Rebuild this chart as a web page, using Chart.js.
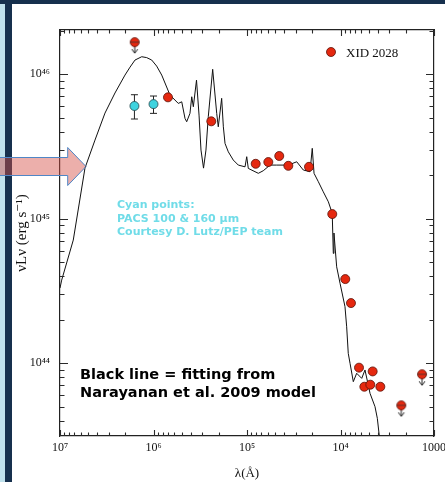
<!DOCTYPE html>
<html>
<head>
<meta charset="utf-8">
<script src="https://cdn.jsdelivr.net/npm/chart.js@4"></script>
<style>
  html, body { margin: 0; padding: 0; background: #16304d; }
  #wrap { position: relative; width: 445px; height: 482px; }
</style>
</head>
<body>
<div id="wrap"><canvas id="chart" width="445" height="482"></canvas></div>
<script>
// values, as log10(lambda / Angstrom) and log10(nuLnu / erg s^-1)
const modelLogLam = [7.000, 6.982, 6.858, 6.733, 6.626, 6.519, 6.412, 6.305, 6.251, 6.198, 6.126, 6.073, 6.019, 5.966, 5.912,
  5.824, 5.735, 5.698, 5.663, 5.645, 5.610, 5.591, 5.574, 5.540, 5.513, 5.492, 5.465, 5.439, 5.414, 5.367, 5.324, 5.307,
  5.271, 5.253, 5.235, 5.200, 5.147, 5.093, 5.021, 5.003, 4.986, 4.879, 4.826, 4.754, 4.682, 4.558, 4.468, 4.398, 4.326,
  4.302, 4.283, 4.237, 4.184, 4.130, 4.094, 4.088, 4.077, 4.070, 4.041, 4.005, 3.952, 3.934, 3.917, 3.898, 3.863, 3.827,
  3.773, 3.738, 3.684, 3.631, 3.606, 3.585];
const modelLogL = [44.519, 44.574, 44.851, 45.349, 45.543, 45.730, 45.869, 45.993, 46.048, 46.097, 46.120, 46.114, 46.097, 46.055, 45.993,
  45.855, 45.797, 45.808, 45.693, 45.670, 45.728, 45.843, 45.774, 45.958, 45.716, 45.474, 45.349, 45.474, 45.705, 46.033, 45.728, 45.635,
  45.832, 45.635, 45.520, 45.462, 45.405, 45.370, 45.358, 45.428, 45.347, 45.313, 45.331, 45.370, 45.370, 45.370, 45.393, 45.336, 45.324,
  45.486, 45.313, 45.255, 45.185, 45.116, 45.047, 45.024, 44.759, 44.900, 44.666, 44.552, 44.390, 44.251, 44.067, 43.998, 43.871, 43.929,
  43.894, 43.952, 43.790, 43.698, 43.617, 43.495];

const detLogLam = [5.845, 5.382, 4.907, 4.772, 4.655, 4.558, 4.337, 4.088, 3.949, 3.888, 3.802, 3.656, 3.745, 3.681, 3.574];
const detLogL   = [45.839, 45.673, 45.379, 45.391, 45.433, 45.365, 45.358, 45.031, 44.581, 44.415, 43.968, 43.942, 43.836, 43.850, 43.836];

const limLogLam = [6.201, 3.350, 3.128];
const limLogL   = [46.221, 43.707, 43.922];

const pacsLogLam = [6.204, 6.000];
const pacsLogL   = [45.779, 45.792];
const pacsLogLo  = [45.689, 45.728];
const pacsLogHi  = [45.857, 45.848];

const xMajor = [1e7, 1e6, 1e5, 1e4, 1e3];
const xMajorLabels = ['10⁷', '10⁶', '10⁵', '10⁴', '1000'];
const yMajor = [1e44, 1e45, 1e46];
const yMajorLabels = ['10⁴⁴', '10⁴⁵', '10⁴⁶'];

const X_MIN = 1e3, X_MAX = 1e7;
const Y_MIN = Math.pow(10, 43.495), Y_MAX = Math.pow(10, 46.305);

const RED = '#e5280f', RED_EDGE = '#5a1008', CYAN = '#3fd3df';
const SERIF = '"Liberation Serif", "DejaVu Serif", serif';

function pts(lx, ly) {
  return lx.map((v, i) => ({ x: Math.pow(10, v), y: Math.pow(10, ly[i]) }));
}

function logTickValues(min, max) {
  const out = [];
  for (let e = Math.floor(Math.log10(min)); e <= Math.ceil(Math.log10(max)); e++) {
    for (let m = 1; m <= 9; m++) {
      const v = m * Math.pow(10, e);
      if (v >= min * 0.999 && v <= max * 1.001) out.push(v);
    }
  }
  return out;
}

function isMajor(v) {
  const l = Math.log10(v);
  return Math.abs(l - Math.round(l)) < 1e-6;
}

function labelFor(v, vals, labels) {
  const i = vals.findIndex(m => Math.abs(Math.log10(m) - Math.log10(v)) < 1e-6);
  return i >= 0 ? labels[i] : '';
}

// upper limit marker: circle with a bar and a down arrow
function limitMarker() {
  const c = document.createElement('canvas');
  c.width = 14; c.height = 28;
  const g = c.getContext('2d');
  const cx = 7, cy = 14;
  g.strokeStyle = '#222';
  g.lineWidth = 1;
  g.beginPath(); g.moveTo(cx, cy); g.lineTo(cx, cy + 11); g.stroke();
  g.beginPath(); g.moveTo(cx - 3, cy + 7); g.lineTo(cx, cy + 11); g.lineTo(cx + 3, cy + 7); g.stroke();
  g.fillStyle = RED;
  g.beginPath(); g.arc(cx, cy, 4.5, 0, 2 * Math.PI); g.fill();
  g.strokeStyle = RED_EDGE; g.lineWidth = 0.8; g.stroke();
  g.strokeStyle = '#333';
  g.beginPath(); g.moveTo(cx - 4.5, cy); g.lineTo(cx + 4.5, cy); g.stroke();
  return c;
}

const background = {
  id: 'background',
  beforeDraw(chart) {
    const ctx = chart.ctx;
    ctx.save();
    ctx.fillStyle = '#16304d';
    ctx.fillRect(0, 0, 445, 482);
    ctx.fillStyle = '#bfe1ec';
    ctx.fillRect(0, 4, 5, 478);
    ctx.fillStyle = '#ffffff';
    ctx.fillRect(12, 4, 433, 478);
    ctx.restore();
  }
};

const errorBars = {
  id: 'errorBars',
  beforeDatasetsDraw(chart) {
    const { ctx, scales: { x, y } } = chart;
    ctx.save();
    ctx.strokeStyle = '#222';
    ctx.lineWidth = 1;
    pacsLogLam.forEach((l, i) => {
      const px = x.getPixelForValue(Math.pow(10, l));
      const top = y.getPixelForValue(Math.pow(10, pacsLogHi[i]));
      const bot = y.getPixelForValue(Math.pow(10, pacsLogLo[i]));
      ctx.beginPath();
      ctx.moveTo(px, top); ctx.lineTo(px, bot);
      ctx.moveTo(px - 3.5, top); ctx.lineTo(px + 3.5, top);
      ctx.moveTo(px - 3.5, bot); ctx.lineTo(px + 3.5, bot);
      ctx.stroke();
    });
    ctx.restore();
  }
};

const xTickVals = logTickValues(X_MIN, X_MAX);
const yTickVals = logTickValues(Y_MIN, Y_MAX);

// inward tick marks on all four sides, placed by the scales
function drawTickMarks(chart) {
  const ctx = chart.ctx;
  const a = chart.chartArea;
  const xs = chart.scales.x, ys = chart.scales.y;
  ctx.save();
  ctx.strokeStyle = '#2a2a2a';
  ctx.lineWidth = 1.1;
  for (const v of xTickVals) {
    const px = Math.round(xs.getPixelForValue(v)) + 0.5;
    const len = isMajor(v) ? 6 : 3.5;
    ctx.beginPath();
    ctx.moveTo(px, a.bottom);
    ctx.lineTo(px, a.bottom - len);
    ctx.moveTo(px, a.top);
    ctx.lineTo(px, a.top + len);
    ctx.stroke();
  }
  for (const v of yTickVals) {
    const py = Math.round(ys.getPixelForValue(v)) + 0.5;
    const len = isMajor(v) ? 8 : 4.5;
    ctx.beginPath();
    ctx.moveTo(a.left, py);
    ctx.lineTo(a.left + len, py);
    ctx.moveTo(a.right, py);
    ctx.lineTo(a.right - len, py);
    ctx.stroke();
  }
  ctx.restore();
}

const overlay = {
  id: 'overlay',
  afterDraw(chart) {
    const ctx = chart.ctx;
    const a = chart.chartArea;
    drawTickMarks(chart);
    ctx.save();

    // legend
    const lx = a.right - 103, ly = a.top + 22;
    ctx.beginPath(); ctx.arc(lx, ly, 4.5, 0, 2 * Math.PI);
    ctx.fillStyle = RED; ctx.fill();
    ctx.strokeStyle = RED_EDGE; ctx.lineWidth = 0.8; ctx.stroke();
    ctx.fillStyle = '#111';
    ctx.font = '13px ' + SERIF;
    ctx.textBaseline = 'middle';
    ctx.fillText('XID 2028', lx + 15, ly + 2);

    // notes
    ctx.fillStyle = '#70dce8';
    ctx.font = 'bold 11px "DejaVu Sans"';
    ctx.fillText('Cyan points:', 117, 205);
    ctx.fillText('PACS 100 & 160 µm', 117, 219);
    ctx.fillText('Courtesy D. Lutz/PEP team', 117, 232.5);

    ctx.fillStyle = '#000';
    ctx.font = 'bold 14.5px "DejaVu Sans"';
    ctx.fillText('Black line = fitting from', 80, 375);
    ctx.fillText('Narayanan et al. 2009 model', 80, 393.5);

    // pink pointer arrow
    ctx.beginPath();
    ctx.moveTo(-2, 157.5);
    ctx.lineTo(67.7, 157.5);
    ctx.lineTo(67.7, 147.5);
    ctx.lineTo(86, 166.5);
    ctx.lineTo(67.7, 185.5);
    ctx.lineTo(67.7, 175.5);
    ctx.lineTo(-2, 175.5);
    ctx.closePath();
    ctx.fillStyle = 'rgba(212, 78, 68, 0.45)';
    ctx.fill();
    ctx.strokeStyle = '#4f86c6';
    ctx.lineWidth = 1;
    ctx.stroke();
    ctx.restore();
  }
};

const noGrid = { display: false, drawTicks: false };
const frame = { display: true, color: '#222', width: 1.2 };

new Chart(document.getElementById('chart'), {
  type: 'scatter',
  data: {
    datasets: [
      { label: 'XID 2028', data: pts(detLogLam, detLogL), pointStyle: 'circle', pointRadius: 4.5,
        backgroundColor: RED, borderColor: RED_EDGE, borderWidth: 0.8 },
      { label: 'upper limits', data: pts(limLogLam, limLogL), pointStyle: limitMarker(), pointRadius: 5 },
      { label: 'PACS 100 & 160 µm', data: pts(pacsLogLam, pacsLogL), pointStyle: 'circle', pointRadius: 4.5,
        backgroundColor: CYAN, borderColor: '#24484d', borderWidth: 0.8 },
      { label: 'Narayanan et al. 2009 model', data: pts(modelLogLam, modelLogL), showLine: true,
        borderColor: '#111', borderWidth: 1, pointRadius: 0, tension: 0 }
    ]
  },
  options: {
    responsive: false,
    animation: false,
    events: [],
    layout: { padding: 0, autoPadding: false },
    plugins: { legend: { display: false }, tooltip: { enabled: false } },
    scales: {
      x: {
        type: 'logarithmic', position: 'bottom', reverse: true, min: X_MIN, max: X_MAX,
        afterBuildTicks: s => { s.ticks = xTickVals.map(v => ({ value: v })); },
        afterFit: s => { s.height = 46; },
        ticks: { autoSkip: false, maxRotation: 0, padding: 5, color: '#111',
          font: { family: SERIF, size: 12 },
          callback: v => labelFor(v, xMajor, xMajorLabels) },
        grid: noGrid, border: frame,
        title: { display: true, text: 'λ(Å)', color: '#111', font: { family: SERIF, size: 13 },
          padding: { top: 0, bottom: 1 } }
      },
      xTop: {
        type: 'logarithmic', position: 'top', reverse: true, min: X_MIN, max: X_MAX,
        afterFit: s => { s.height = 30; },
        ticks: { display: false },
        grid: noGrid, border: frame
      },
      y: {
        type: 'logarithmic', position: 'left', min: Y_MIN, max: Y_MAX,
        afterBuildTicks: s => { s.ticks = yTickVals.map(v => ({ value: v })); },
        afterFit: s => { s.width = 60; },
        ticks: { autoSkip: false, padding: 10, color: '#111',
          font: { family: SERIF, size: 12 },
          callback: v => labelFor(v, yMajor, yMajorLabels) },
        grid: noGrid, border: frame,
        title: { display: true, text: 'νLν (erg s⁻¹)', color: '#111', font: { family: SERIF, size: 15 },
          padding: { top: 13, bottom: 0 } }
      },
      yRight: {
        type: 'logarithmic', position: 'right', min: Y_MIN, max: Y_MAX,
        afterFit: s => { s.width = 11; },
        ticks: { display: false },
        grid: noGrid, border: frame
      }
    }
  },
  plugins: [background, errorBars, overlay]
});
</script>
</body>
</html>
